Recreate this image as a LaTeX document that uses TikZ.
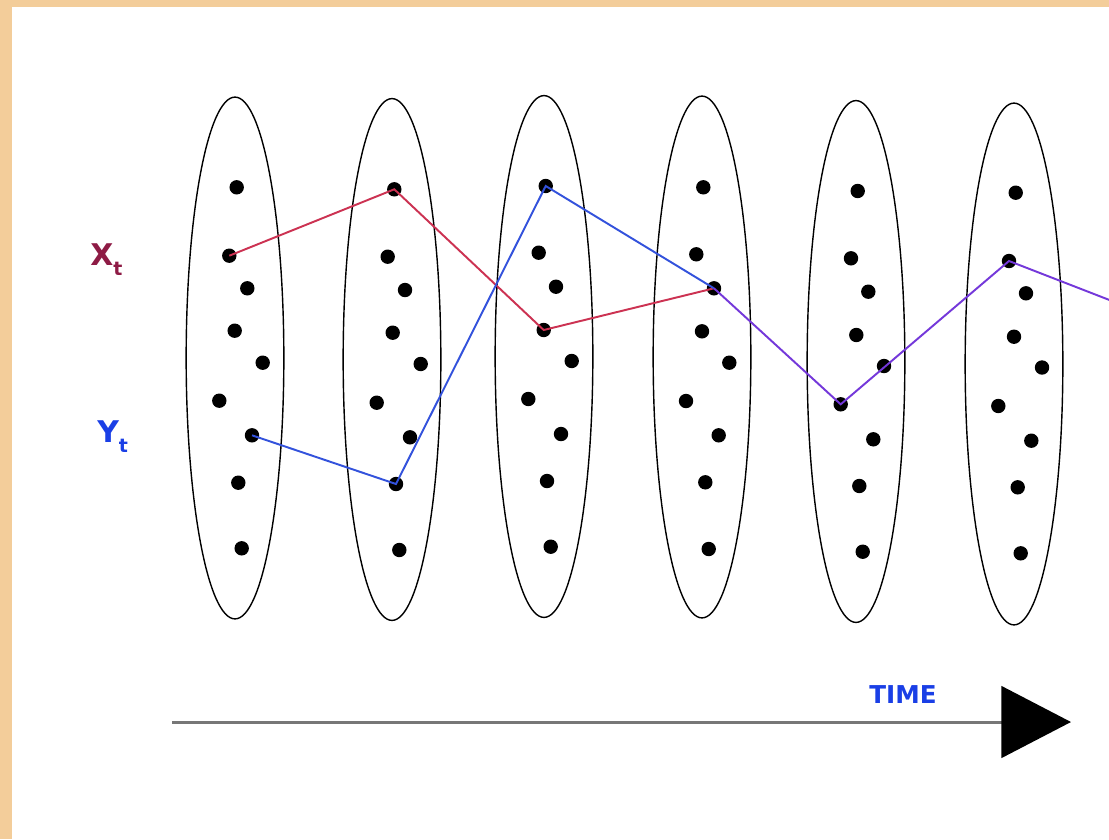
\documentclass[tikz,border=0pt]{standalone}
\usepackage{fontspec}
\setmainfont{DejaVu Sans}
\usetikzlibrary{shapes.geometric,arrows.meta}
\definecolor{tanbg}{HTML}{F3CD9A}
\definecolor{xcol}{HTML}{8E1B45}
\definecolor{ycol}{HTML}{1A3FE6}
\definecolor{redline}{HTML}{CC3252}
\definecolor{blueline}{HTML}{3352DC}
\definecolor{purpleline}{HTML}{7438DA}
\definecolor{axisgray}{HTML}{777777}
\tikzset{
  slice/.style={draw=black, line width=0.8pt, ellipse, inner sep=0pt,
    minimum width=55.6pt, minimum height=297pt},
  dot/.style={circle, fill=black, inner sep=0pt, minimum size=8.2pt},
  pathline/.style={line width=1.1pt},
  lbl/.style={inner sep=0pt, font=\fontsize{17pt}{20pt}\selectfont\bfseries},
  timeline/.style={draw=axisgray, line width=1.7pt,
    -{Triangle[length=39.7pt,width=40.8pt,color=black,fill=black]}}
}
\begin{document}
\begin{tikzpicture}[x=0.02cm,y=-0.02cm]
\fill[tanbg] (0,0) rectangle (1109,839);
\fill[white] (12,7) rectangle (1109,839);
\useasboundingbox (0,0) rectangle (1109,839);

% time slices
\node[slice] (e1) at (235,358) {};
\node[slice] (e2) at (392,359.5) {};
\node[slice] (e3) at (544,356.5) {};
\node[slice] (e4) at (702,357) {};
\node[slice] (e5) at (856,361.5) {};
\node[slice] (e6) at (1014,364) {};

% states
\foreach \n/\x/\y in {
  c1a/236.7/187.3, c1b/229.3/255.7, c1c/247.3/288.3, c1d/234.7/330.7, c1e/262.7/362.7,
  c1f/219.3/400.7, c1g/252/435.3, c1h/238.3/482.7, c1i/241.7/548.3,
  c2a/394.3/189.3, c2b/387.7/256.7, c2c/405/290, c2d/392.7/332.7, c2e/420.7/364,
  c2f/376.7/402.7, c2g/410/437.3, c2h/396/484, c2i/399.3/550,
  c3a/545.7/186, c3b/538.7/252.7, c3c/556/286.7, c3d/543.7/330, c3e/571.7/361,
  c3f/528.3/399, c3g/561/434, c3h/547/481, c3i/550.7/546.7,
  c4a/703.3/187.3, c4b/696.3/254.3, c4c/714/288.3, c4d/702/331.3, c4e/729.3/362.7,
  c4f/686/401, c4g/718.7/435.3, c4h/705.3/482.3, c4i/708.7/549,
  c5a/857.7/191, c5b/851/258.3, c5c/868.3/291.7, c5d/856.3/335, c5e/884/366,
  c5f/840.7/404.3, c5g/873.3/439.3, c5h/859.3/486, c5i/862.7/551.7,
  c6a/1015.7/192.7, c6b/1009/261, c6c/1026/293.3, c6d/1014/336.7, c6e/1042/367.5,
  c6f/998.3/406, c6g/1031.3/440.7, c6h/1017.7/487.3, c6i/1020.7/553.3}
  \node[dot] (\n) at (\x,\y) {};

% trajectories
\coordinate (pend) at (1112,301);
\draw[pathline, redline] (c1b.center) -- (c2a.center) -- (c3d.center) -- (c4c.center);
\draw[pathline, blueline] (c1g.center) -- (c2h.center) -- (c3a.center) -- (c4c.center);
\draw[pathline, purpleline] (c4c.center) -- (c5f.center) -- (c6b.center) -- (pend);

% labels
\node[lbl, text=xcol, anchor=base west] (xl) at (90,265) {X\raisebox{-6pt}{\fontsize{10.8pt}{12pt}\selectfont t}};
\node[lbl, text=ycol, anchor=base west] (yl) at (97,442) {Y\raisebox{-6pt}{\fontsize{10.8pt}{12pt}\selectfont t}};

% time axis
\coordinate (ts) at (172,722);
\coordinate (te) at (1071,722);
\draw[timeline] (ts) -- (te);
\node[inner sep=0pt, anchor=base west, text=ycol, font=\fontsize{14pt}{16pt}\selectfont\bfseries] (time) at (869,703) {TIME};
\end{tikzpicture}
\end{document}
